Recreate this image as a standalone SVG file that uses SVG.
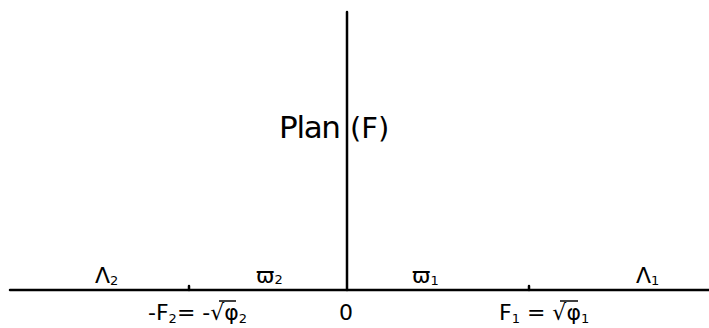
<svg xmlns="http://www.w3.org/2000/svg" width="709" height="328" viewBox="0 0 709 328">
<style>
.ax{stroke:#000;stroke-width:2.5;fill:none;stroke-linecap:round}
.t{font-family:"DejaVu Sans","Liberation Sans",sans-serif;fill:#000}
.lbl{font-size:22px}
.sub{font-size:13px}
.bar{stroke:#000;stroke-width:1.5}
</style>
<rect width="709" height="328" fill="#fff"/>
<g id="connectors">
<line class="ax" x1="10" y1="290" x2="709" y2="290"/>
<line class="ax" x1="347" y1="12" x2="347" y2="290"/>
<line class="ax" x1="189" y1="286" x2="189" y2="290"/>
<line class="ax" x1="529" y1="286" x2="529" y2="290"/>
</g>
<g id="plan">
<text class="t" x="279" y="138" font-size="31" textLength="62" lengthAdjust="spacing">Plan</text>
<text class="t" x="350" y="138" font-size="29">(F)</text>
</g>
<g id="lambda2"><text class="t lbl" x="95" y="283">Λ<tspan class="sub" dy="2">2</tspan></text></g>
<g id="varpi2"><text class="t lbl" x="256" y="283">ϖ<tspan class="sub" dy="1">2</tspan></text></g>
<g id="varpi1"><text class="t lbl" x="412" y="283">ϖ<tspan class="sub" dy="2">1</tspan></text></g>
<g id="lambda1"><text class="t lbl" x="636" y="283">Λ<tspan class="sub" dy="2">1</tspan></text></g>
<g id="origin"><text class="t lbl" x="339" y="320">0</text></g>
<g id="negF2">
<text class="t lbl" x="148" y="320">-F<tspan class="sub" dy="3">2</tspan><tspan dy="-3">= -√φ</tspan><tspan class="sub" dy="3">2</tspan></text>
<line class="bar" x1="219" y1="301" x2="236" y2="301"/>
</g>
<g id="F1">
<text class="t lbl" x="499" y="320">F<tspan class="sub" dy="3">1</tspan><tspan dy="-3"> = √φ</tspan><tspan class="sub" dy="3">1</tspan></text>
<line class="bar" x1="560" y1="301" x2="578" y2="301"/>
</g>
</svg>
